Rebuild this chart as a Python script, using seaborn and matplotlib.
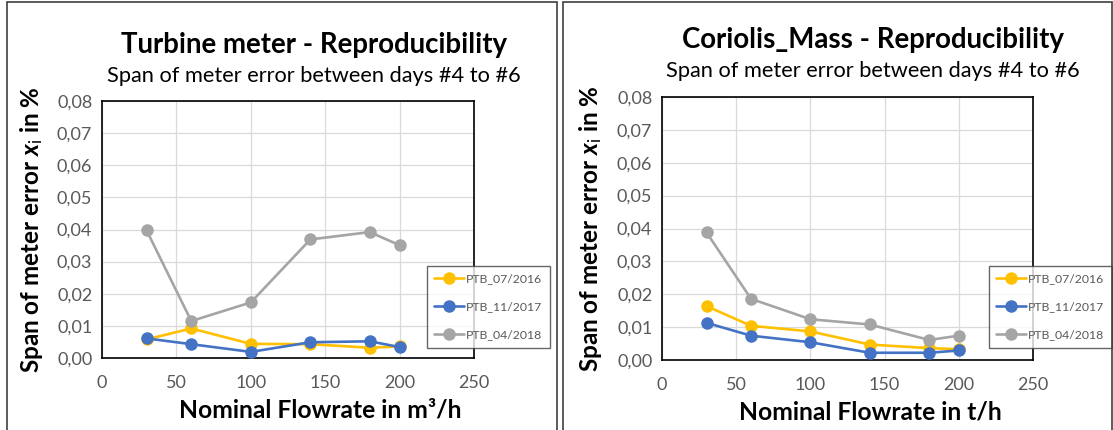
import numpy as np
import pandas as pd
import matplotlib
matplotlib.use("Agg")
import matplotlib.pyplot as plt
from matplotlib.patches import Rectangle
from matplotlib.ticker import FuncFormatter, MultipleLocator
import seaborn as sns

# ---------------- data ----------------
flow = [30, 60, 100, 140, 180, 200]
series_names = ["PTB_07/2016", "PTB_11/2017", "PTB_04/2018"]

turbine_2016 = [0.0058, 0.0092, 0.0044, 0.0043, 0.0032, 0.0036]
turbine_2017 = [0.0061, 0.0043, 0.0019, 0.0049, 0.0052, 0.0034]
turbine_2018 = [0.0397, 0.0115, 0.0173, 0.0369, 0.0392, 0.0351]

coriolis_2016 = [0.0164, 0.0104, 0.0087, 0.0047, 0.0036, 0.0033]
coriolis_2017 = [0.0113, 0.0074, 0.0054, 0.0022, 0.0022, 0.0029]
coriolis_2018 = [0.0388, 0.0186, 0.0124, 0.0108, 0.0061, 0.0074]

titles = ["Turbine meter - Reproducibility", "Coriolis_Mass - Reproducibility"]
subtitle = "Span of meter error between days #4 to #6"
xlabels = ["Nominal Flowrate in m³/h", "Nominal Flowrate in t/h"]
ylabel = r"Span of meter error $\mathbfit{x}_{\mathrm{i}}$ in %"

colors = ["#FFC000", "#4472C4", "#A5A5A5"]

def long_df(a, b, c):
    rows = []
    for name, vals in zip(series_names, [a, b, c]):
        for f, v in zip(flow, vals):
            rows.append({"flow": f, "span": v, "series": name})
    return pd.DataFrame(rows)

dfs = [long_df(turbine_2016, turbine_2017, turbine_2018),
       long_df(coriolis_2016, coriolis_2017, coriolis_2018)]

# ---------------- style ----------------
sns.set_theme(style="white")
FONT = "Lato"
plt.rcParams["font.family"] = [FONT, "DejaVu Sans"]
plt.rcParams["mathtext.fontset"] = "custom"
plt.rcParams["mathtext.rm"] = FONT
plt.rcParams["mathtext.it"] = FONT + ":italic"
plt.rcParams["mathtext.bf"] = FONT + ":bold"
plt.rcParams["mathtext.bfit"] = FONT + ":bold:italic"

W, H = 1113, 430
fig = plt.figure(figsize=(W / 100, H / 100), dpi=100)
fig.patch.set_facecolor("white")

def px_rect(x0, y0, x1, y1):
    return Rectangle((x0 / W, 1 - y1 / H), (x1 - x0) / W, (y1 - y0) / H,
                     transform=fig.transFigure, fill=False,
                     edgecolor="#404040", linewidth=1.2, zorder=0)

fig.patches.append(px_rect(7, 2, 557, 440))
fig.patches.append(px_rect(563, 2, 1112, 440))

axes_px = [(102, 101, 474, 358), (662, 97, 1033, 360)]
title_pos = [(314, 45, 76), (873, 40, 71)]
ylabel_x = [32, 590]
xlabel_pos = [(320, 410), (870, 412)]
legend_px = [(427, 266), (989, 266)]

tick_color = "#595959"

def comma_fmt(v, pos):
    return f"{v:.2f}".replace(".", ",")

for i in range(2):
    x0, y0, x1, y1 = axes_px[i]
    ax = fig.add_axes([x0 / W, 1 - y1 / H, (x1 - x0) / W, (y1 - y0) / H])
    sns.lineplot(data=dfs[i], x="flow", y="span", hue="series",
                 palette=colors, hue_order=series_names, marker="o",
                 markersize=9, markeredgewidth=0, linewidth=1.9,
                 ax=ax, legend=False, zorder=3)
    ax.set_xlim(0, 250)
    ax.set_ylim(0, 0.08)
    ax.xaxis.set_major_locator(MultipleLocator(50))
    ax.yaxis.set_major_locator(MultipleLocator(0.01))
    ax.yaxis.set_major_formatter(FuncFormatter(comma_fmt))
    ax.grid(True, color="#D9D9D9", linewidth=0.9)
    ax.set_axisbelow(True)
    for s in ax.spines.values():
        s.set_color("#000000")
        s.set_linewidth(1.2)
    ax.tick_params(axis="both", colors=tick_color, labelsize=13,
                   length=4, width=1, direction="out", pad=3)
    ax.tick_params(axis="both", color="#000000")
    ax.tick_params(axis="x", pad=8)
    ax.set_xlabel("")
    ax.set_ylabel("")

    cx, ty, sy = title_pos[i]
    fig.text(cx / W, 1 - ty / H, titles[i], ha="center", va="center",
             fontsize=19.9, fontweight="bold", color="#000000")
    fig.text(cx / W, 1 - sy / H, subtitle, ha="center", va="center",
             fontsize=15.7, color="#000000")
    fig.text(ylabel_x[i] / W, 1 - ((y0 + y1) / 2) / H, ylabel,
             rotation=90, ha="center", va="center", fontsize=17.5,
             fontweight="bold", color="#000000")
    xx, xy = xlabel_pos[i]
    fig.text(xx / W, 1 - xy / H, xlabels[i], ha="center", va="center",
             fontsize=17.7, fontweight="bold", color="#000000")

    handles = [plt.Line2D([], [], color=c, marker="o", markersize=9,
                          markeredgewidth=0, linewidth=1.9) for c in colors]
    lx, ly = legend_px[i]
    leg = ax.legend(handles, series_names, loc="upper left",
                    bbox_to_anchor=(lx / W, 1 - ly / H),
                    bbox_transform=fig.transFigure, fontsize=8.8,
                    frameon=True, fancybox=False, handlelength=2.4,
                    handletextpad=0.2, labelspacing=1.4, borderpad=0.6,
                    borderaxespad=0)
    leg.get_frame().set_edgecolor("#404040")
    leg.get_frame().set_linewidth(1.0)
    for t in leg.get_texts():
        t.set_color(tick_color)
    leg.set_zorder(10)

fig.savefig("out.png", dpi=100)
